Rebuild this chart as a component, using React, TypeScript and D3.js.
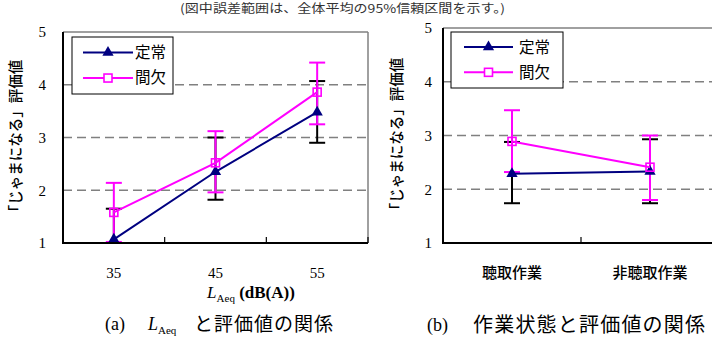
import React from 'react';
import * as d3 from 'd3';

// values (mean, upper CI, lower CI)
const laeqCategories = ['35', '45', '55'];
const laeqSteadyMean = [1.07, 2.35, 3.48];
const laeqSteadyHigh = [1.65, 3.0, 4.07];
const laeqSteadyLow = [0.49, 1.82, 2.9];
const laeqIntermMean = [1.58, 2.52, 3.86];
const laeqIntermHigh = [2.14, 3.12, 4.42];
const laeqIntermLow = [1.02, 1.96, 3.25];

const taskCategories = ['聴取作業', '非聴取作業'];
const taskSteadyMean = [2.29, 2.33];
const taskSteadyHigh = [2.88, 2.93];
const taskSteadyLow = [1.74, 1.74];
const taskIntermMean = [2.89, 2.41];
const taskIntermHigh = [3.47, 3.0];
const taskIntermLow = [2.32, 1.8];

const yTicks = [1, 2, 3, 4, 5];
const gridTicks = [2, 3, 4];
const seriesNames = ['定常', '間欠'];

const NAVY = '#000080';
const MAGENTA = '#ff00ff';
const SERIF = '"Liberation Serif", "Times New Roman", serif';
const SANS = '"Noto Sans CJK JP", "Noto Sans", sans-serif';

type Series = { mean: number[]; high: number[]; low: number[] };

type PanelProps = {
  id: string;
  categories: string[];
  steady: Series;
  interm: Series;
  left: number;
  right: number;
  top: number;
  bottom: number;
  labelGap: number;
  legend: { x: number; y: number; w: number; h: number; pad: number; len: number; textGap: number };
  yTitleX: number;
  numericX: boolean;
};

const Panel = ({ id, categories, steady, interm, left, right, top, bottom, labelGap, legend, yTitleX, numericX }: PanelProps) => {
  const x = d3.scaleBand().domain(categories).range([left, right]).padding(0);
  const y = d3.scaleLinear().domain([1, 5]).range([bottom, top]);
  const cx = (c: string) => (x(c) ?? 0) + x.bandwidth() / 2;
  const line = d3.line<[number, number]>().x(d => d[0]).y(d => d[1]);
  const pts = (s: Series) => categories.map((c, i) => [cx(c), y(s.mean[i])] as [number, number]);
  const tri = d3.symbol().type(d3.symbolTriangle).size(55)();
  const capW = 8;

  const errBars = (s: Series, color: string) =>
    categories.map((c, i) => (
      <g key={c} stroke={color} strokeWidth={2}>
        <line x1={cx(c)} x2={cx(c)} y1={y(s.low[i])} y2={y(s.high[i])} />
        <line x1={cx(c) - capW} x2={cx(c) + capW} y1={y(s.high[i])} y2={y(s.high[i])} />
        <line x1={cx(c) - capW} x2={cx(c) + capW} y1={y(s.low[i])} y2={y(s.low[i])} />
      </g>
    ));

  const boundaries = categories.map(c => x(c) ?? 0).concat([right]);
  const ly1 = legend.y + legend.h * 0.27;
  const ly2 = legend.y + legend.h * 0.72;
  const lx1 = legend.x + legend.pad;
  const lx2 = lx1 + legend.len;
  const lmid = (lx1 + lx2) / 2;

  return (
    <g>
      <defs>
        <clipPath id={`clip-${id}`}>
          <rect x={left} y={top - 12} width={right - left} height={bottom - top + 12} />
        </clipPath>
      </defs>
      {gridTicks.map(t => (
        <line key={t} x1={left} x2={right} y1={y(t)} y2={y(t)} stroke="#808080" strokeWidth={1.5} strokeDasharray="9,5" />
      ))}
      <line x1={left} x2={right} y1={y(5)} y2={y(5)} stroke="#808080" strokeWidth={1.5} />
      <line x1={right} x2={right} y1={y(5)} y2={y(1)} stroke="#808080" strokeWidth={1.5} />

      <g clipPath={`url(#clip-${id})`}>
        {errBars(steady, '#000')}
        {errBars(interm, MAGENTA)}
        <path d={line(pts(steady)) ?? ''} fill="none" stroke={NAVY} strokeWidth={2} />
        {pts(steady).map((p, i) => (
          <path key={i} d={tri ?? ''} transform={`translate(${p[0]},${p[1]})`} fill={NAVY} />
        ))}
        <path d={line(pts(interm)) ?? ''} fill="none" stroke={MAGENTA} strokeWidth={2} />
        {pts(interm).map((p, i) => (
          <rect key={i} x={p[0] - 4} y={p[1] - 4} width={8} height={8} fill="none" stroke={MAGENTA} strokeWidth={1.6} />
        ))}
      </g>

      <line x1={left} x2={left} y1={y(5)} y2={y(1) + 1} stroke="#000" strokeWidth={2} />
      <line x1={left} x2={right} y1={y(1)} y2={y(1)} stroke="#000" strokeWidth={2.2} />
      {boundaries.map((b, i) => (
        <line key={i} x1={b} x2={b} y1={y(1)} y2={y(1) - 6} stroke="#000" strokeWidth={1.2} />
      ))}

      {yTicks.map(t => (
        <text key={t} x={left - labelGap} y={y(t)} dy="0.35em" textAnchor="end" fontFamily={SERIF} fontSize={15}>
          {t}
        </text>
      ))}
      {categories.map(c => (
        <text
          key={c}
          x={cx(c)}
          y={y(1) + 30}
          dy="0.35em"
          textAnchor="middle"
          fontFamily={numericX ? SERIF : SANS}
          fontSize={15}
          fontWeight={numericX ? 400 : 500}
        >
          {c}
        </text>
      ))}

      <text
        transform={`translate(${yTitleX},${(y(5) + y(1)) / 2 + 2}) rotate(-90)`}
        textAnchor="middle"
        dy="0.35em"
        fontFamily={SANS}
        fontSize={14.5}
        fontWeight={500}
      >
        「じゃまになる」評価値
      </text>

      <rect x={legend.x} y={legend.y} width={legend.w} height={legend.h} fill="#fff" stroke="#000" strokeWidth={1} />
      <line x1={lx1} x2={lx2} y1={ly1} y2={ly1} stroke={NAVY} strokeWidth={2} />
      <path d={tri ?? ''} transform={`translate(${lmid},${ly1})`} fill={NAVY} />
      <line x1={lx1} x2={lx2} y1={ly2} y2={ly2} stroke={MAGENTA} strokeWidth={2} />
      <rect x={lmid - 4} y={ly2 - 4} width={8} height={8} fill="#fff" stroke={MAGENTA} strokeWidth={1.6} />
      {seriesNames.map((n, i) => (
        <text key={n} x={lx2 + legend.textGap} y={i === 0 ? ly1 : ly2} dy="0.35em" fontFamily={SANS} fontSize={15.5}>
          {n}
        </text>
      ))}
    </g>
  );
};

const App = () => {
  return (
    <svg width={712} height={338} style={{ position: 'absolute', left: 0, top: 0, background: '#fff' }}>
      <text x={180} y={13} fontFamily={SANS} fontSize={12} fill="#333" textLength={325} lengthAdjust="spacingAndGlyphs">
        (図中誤差範囲は、全体平均の95%信頼区間を示す。)
      </text>

      <Panel
        id="a"
        categories={laeqCategories}
        steady={{ mean: laeqSteadyMean, high: laeqSteadyHigh, low: laeqSteadyLow }}
        interm={{ mean: laeqIntermMean, high: laeqIntermHigh, low: laeqIntermLow }}
        left={63}
        right={368}
        top={32}
        bottom={243}
        labelGap={17}
        legend={{ x: 72, y: 37, w: 101, h: 57, pad: 11, len: 50, textGap: 2 }}
        yTitleX={16}
        numericX
      />
      <Panel
        id="b"
        categories={taskCategories}
        steady={{ mean: taskSteadyMean, high: taskSteadyHigh, low: taskSteadyLow }}
        interm={{ mean: taskIntermMean, high: taskIntermHigh, low: taskIntermLow }}
        left={443}
        right={719}
        top={28}
        bottom={243}
        labelGap={11}
        legend={{ x: 451, y: 32, w: 112, h: 56, pad: 13, len: 49, textGap: 6 }}
        yTitleX={397}
        numericX={false}
      />

      <text x={251} y={292} dy="0.35em" textAnchor="middle" fontFamily={SERIF} fontSize={17}>
        <tspan fontStyle="italic">L</tspan>
        <tspan fontSize={11} dy={4}>Aeq</tspan>
        <tspan fontWeight="bold" dy={-4}> (dB(A))</tspan>
      </text>

      <text x={105} y={324} dy="0.35em" fontFamily={SERIF} fontSize={18}>
        (a)
      </text>
      <text x={148} y={324} dy="0.35em" fontFamily={SERIF} fontSize={18}>
        <tspan fontStyle="italic">L</tspan>
        <tspan fontSize={11} dy={4}>Aeq</tspan>
      </text>
      <text x={194} y={324} dy="0.35em" fontFamily={SANS} fontSize={19} textLength={139} lengthAdjust="spacing">
        と評価値の関係
      </text>

      <text x={427} y={325} dy="0.35em" fontFamily={SERIF} fontSize={18}>
        (b)
      </text>
      <text x={473} y={325} dy="0.35em" fontFamily={SANS} fontSize={20} textLength={232} lengthAdjust="spacing">
        作業状態と評価値の関係
      </text>
    </svg>
  );
};

export default App;
